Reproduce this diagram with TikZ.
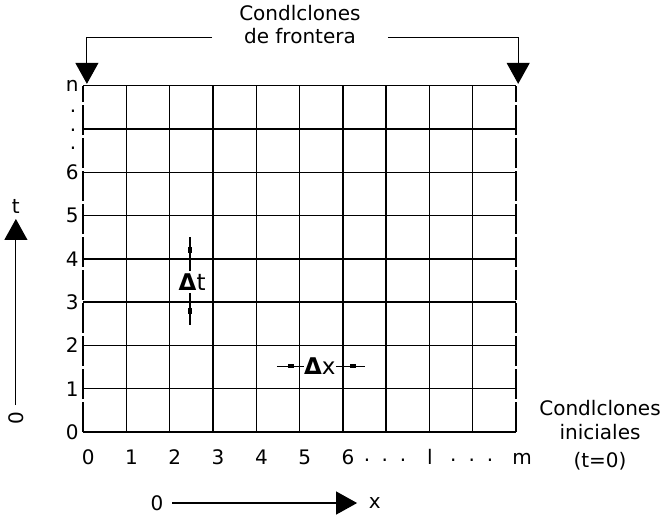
\documentclass[tikz,border=0pt]{standalone}
\usepackage{fontspec}
\setmainfont{DejaVu Sans}
\usetikzlibrary{arrows.meta, positioning, calc}

\tikzset{
  lbl/.style={inner sep=0pt, font=\fontsize{20}{23}\selectfont},
  gridline/.style={line width=1.4pt},
  edgeline/.style={line width=1.4pt, dash pattern=on 30pt off 3pt},
  bigarrow/.style={line width=1.1pt, -{Triangle[length=21pt, width=23pt]}},
}

\begin{document}
\begin{tikzpicture}[x=43.3pt, y=43.3pt]
  \useasboundingbox (-1.917,-1.94) rectangle (13.533,9.977);
  % malla
  \foreach \i in {1,...,9} \draw[gridline] (\i,0) -- (\i,8);
  \foreach \j in {0,...,8} \draw[gridline] (0,\j) -- (10,\j);
  \draw[edgeline] (0,0) -- (0,8);
  \draw[edgeline] (10,0) -- (10,8);

  % indices de t
  \foreach \j in {0,...,6} \node[lbl, anchor=east] (t\j) at (-0.1,\j) {\j};
  \foreach \y [count=\k] in {6.55,6.98,7.4} \node[lbl, anchor=east] (td\k) at (-0.15,\y) {.};
  \node[lbl, anchor=east] (tn) at (-0.1,8.0) {n};

  % indices de x
  \foreach \i in {0,...,6} \node[lbl] (x\i) at (\i+0.12,-0.58) {\i};
  \foreach \x [count=\k] in {6.56,6.97,7.39,8.55,8.98,9.4} \node[lbl] (xd\k) at (\x,-0.66) {.};
  \node[lbl] (xl) at (8.01,-0.58) {l};
  \node[lbl] (xm) at (10.14,-0.62) {m};

  % condiciones de frontera
  \node[lbl, align=center] (front) at (5.01,9.42) {Condlclones\\de frontera};
  \coordinate (fl) at (2.98,9.12);
  \coordinate (fr) at (7.04,9.12);
  \coordinate (tipl) at (0.09,8.04);
  \coordinate (tipr) at (10.05,8.04);
  \draw[bigarrow] (fl) -| (tipl);
  \draw[bigarrow] (fr) -| (tipr);

  % condiciones iniciales
  \node[lbl, align=center] (inic) at (11.94,-0.08) {Condlclones\\[1pt]iniciales\\[5pt](t=0)};

  % ejes
  \node[lbl, rotate=90] (t0) at (-1.55,0.32) {0};
  \coordinate (tbase) at (-1.55,0.62);
  \coordinate (ttip) at (-1.55,4.92);
  \draw[bigarrow] (tbase) -- (ttip);
  \node[lbl] (tax) at (-1.55,5.2) {t};
  \node[lbl] (x0) at (1.71,-1.64) {0};
  \coordinate (xbase) at (2.06,-1.64);
  \coordinate (xtip) at (6.33,-1.64);
  \draw[bigarrow] (xbase) -- (xtip);
  \node[lbl] (xax) at (6.74,-1.64) {x};

  % incrementos
  \node[lbl, font=\fontsize{23}{25}\selectfont] (dt) at (2.52,3.46) {{\bfseries Δ}t};
  \coordinate (dtu) at (2.47,4.5);
  \coordinate (dtd) at (2.47,2.47);
  \draw[line width=1.1pt] (dtu) -- (2.47,3.72);
  \draw[line width=1.1pt] (2.47,3.21) -- (dtd);
  \fill (2.47,4.2) +(-2pt,-3pt) rectangle +(2pt,3pt);
  \fill (2.47,2.79) +(-2pt,-3pt) rectangle +(2pt,3pt);
  \node[lbl, font=\fontsize{23}{25}\selectfont] (dx) at (5.47,1.52) {{\bfseries Δ}x};
  \coordinate (dxl) at (4.48,1.52);
  \coordinate (dxr) at (6.51,1.52);
  \draw[line width=1.1pt] (dxl) -- (dx.west);
  \draw[line width=1.1pt] (dx.east) -- (dxr);
  \fill (4.8,1.52) +(-3pt,-2pt) rectangle +(3pt,2pt);
  \fill (6.24,1.52) +(-3pt,-2pt) rectangle +(3pt,2pt);
\end{tikzpicture}
\end{document}
